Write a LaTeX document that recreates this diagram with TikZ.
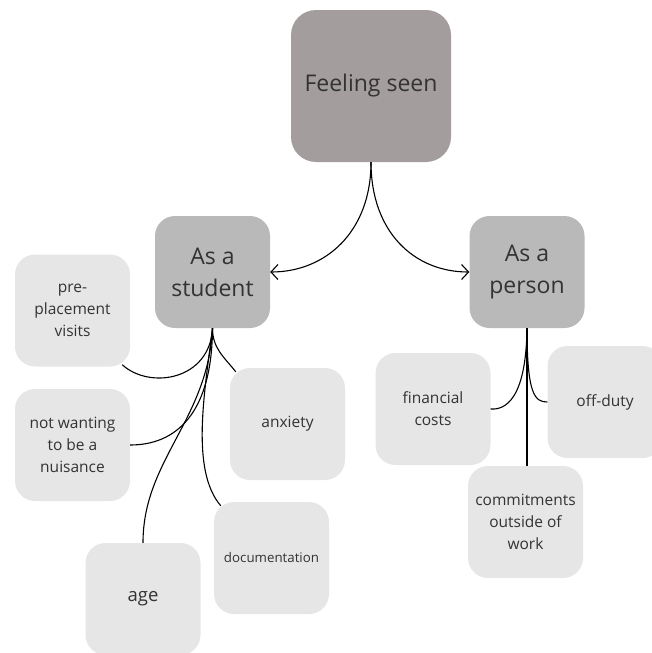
\documentclass[tikz,border=0pt]{standalone}
\usepackage{fontspec}
\setmainfont{Open Sans}
\usepackage{tikz}
\usetikzlibrary{calc, arrows.meta}

\definecolor{topgrey}{HTML}{A39D9D}
\definecolor{midgrey}{HTML}{B9B9B9}
\definecolor{lightgrey}{HTML}{E6E6E6}
\definecolor{inkgrey}{HTML}{333333}

\begin{document}
\begin{tikzpicture}[x=1pt, y=-1pt,
        box/.style={rectangle, rounded corners=20pt, inner sep=0pt, align=center,
            minimum width=115pt, minimum height=112pt, text=inkgrey},
        leaf/.style={box, fill=lightgrey, font=\fontsize{15.5}{22}\selectfont},
        branch/.style={box, fill=midgrey, font=\fontsize{23}{32}\selectfont},
        link/.style={line width=1.1pt},
        arrow/.style={link, -{Straight Barb[length=7pt, width=15pt]}}]
            \useasboundingbox (0,0) rectangle (651,653);

            % main topic
            \node[box, fill=topgrey, rounded corners=25pt, minimum width=160pt,
                minimum height=152pt, font=\fontsize{23}{28}\selectfont]
                (seen) at (371,86) {Feeling seen};

            % the two branches
            \node[branch] (student) at (212.5,272) {As a\\student};
            \node[branch] (person) at (527,272) {As a\\person};

            % leaves of the student branch
            \node[leaf] (pre) at (72.5,310.5) {pre-\\placement\\visits};
            \node[leaf] (nuis) at (72.5,445) {not wanting\\to be a\\nuisance};
            \node[leaf] (anx) at (287.5,424) {anxiety};
            \node[leaf, font=\fontsize{13.3}{18}\selectfont] (doc) at (271.5,558) {documentation};
            \node[leaf, font=\fontsize{18.5}{24}\selectfont] (age) at (143,599) {age};

            % leaves of the person branch
            \node[leaf] (fin) at (433,409) {financial\\costs};
            \node[leaf] (off) at (605,402) {off-duty};
            \node[leaf] (commit) at (525.5,522) {commitments\\outside of\\work};

            \draw[arrow] (seen.south) .. controls +(0,70) and +(55,0) .. (student.east);
            \draw[arrow] (seen.south) .. controls +(0,70) and +(-55,0) .. (person.west);

            \draw[link] (student.south) .. controls (210,380) and (150,390) ..
                ($(pre.south east)+(-8,-2)$);
            \draw[link] (student.south) .. controls +(0,20) and +(-12,-15) ..
                ($(anx.north west)+(6,4)$);
            \draw[link] (student.south) .. controls (212,415) and (175,445) .. (nuis.east);
            \draw[link] (student.south) .. controls (208,420) and (143,460) .. (age.north);
            \draw[link] (student.south) .. controls (205,390) and (190,470) ..
                ($(doc.north west)+(7,4)$);

            \draw[link] (person.south) .. controls (526,400) and (505,410) .. (fin.east);
            \draw[link] (person.south) .. controls (527,395) and (535,402) .. (off.west);
            \draw[link] (person.south) -- (commit.north -| person.south);

        \end{tikzpicture}
\end{document}
